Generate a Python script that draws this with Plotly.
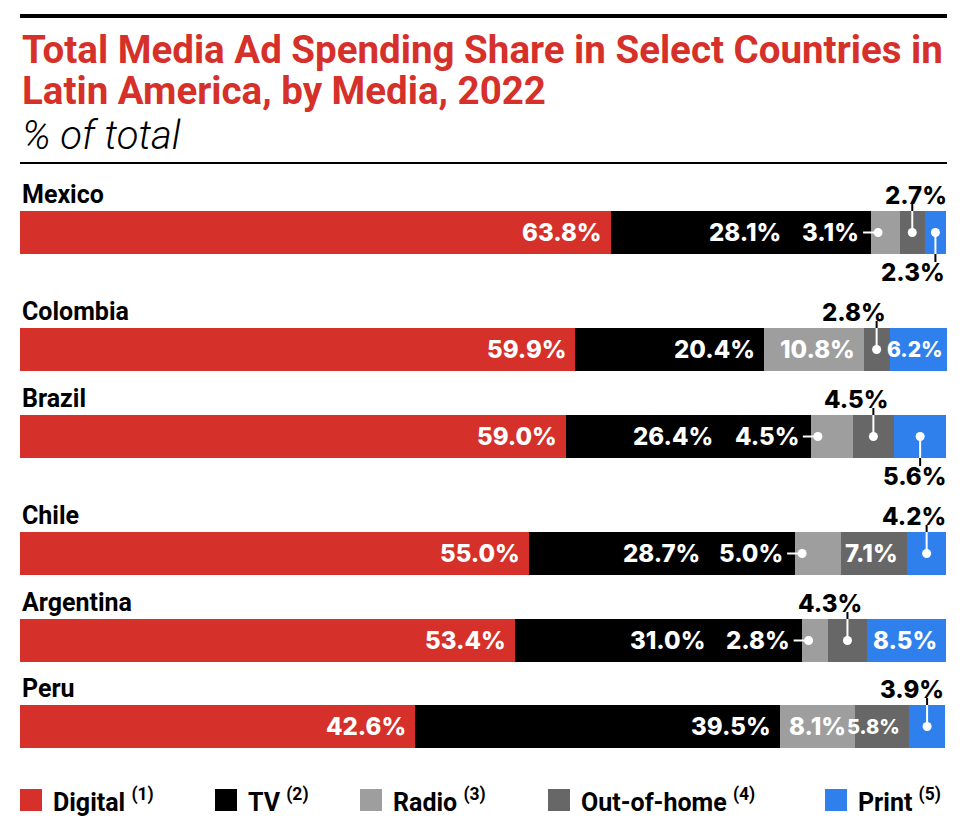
import plotly.graph_objects as go

# ---------------- data ----------------
countries = ["Mexico", "Colombia", "Brazil", "Chile", "Argentina", "Peru"]
media = ["Digital", "TV", "Radio", "Out-of-home", "Print"]
media_notes = ["(1)", "(2)", "(3)", "(4)", "(5)"]
digital = [63.8, 59.9, 59.0, 55.0, 53.4, 42.6]
tv = [28.1, 20.4, 26.4, 28.7, 31.0, 39.5]
radio = [3.1, 10.8, 4.5, 5.0, 2.8, 8.1]
out_of_home = [2.7, 2.8, 4.5, 7.1, 4.3, 5.8]
print_media = [2.3, 6.2, 5.6, 4.2, 8.5, 3.9]
title_lines = ["Total Media Ad Spending Share in Select Countries in",
               "Latin America, by Media, 2022"]
subtitle = "% of total"

series = [digital, tv, radio, out_of_home, print_media]

# ---------------- layout / style ----------------
W, H = 980, 823
ML, MR = 20, 33
PW = W - ML - MR
XMAX = 100.1
colors = ["#d6302a", "#000000", "#9e9e9e", "#676767", "#2f80ed"]
ROW_Y = [232.5, 349.5, 436.5, 553.5, 640.5, 726.5]   # pixel centres of the bars
BAR_H = 43
TITLE_RED = "#d6302a"
COND = "Roboto"
NUM = "Inter"
LBL_SIZE = 24
LBL_WEIGHT = 800
SIZE_OVERRIDE = {(5, 3): 20, (1, 4): 21}

# callout modes: (row, series) -> ('left',) | ('up', dx) | ('down', dx)
CALLOUTS = {
    (0, 2): ("left",), (0, 3): ("up", 4), (0, 4): ("down", -22),
    (1, 3): ("up", -23),
    (2, 2): ("left",), (2, 3): ("up", -17), (2, 4): ("down", -6),
    (3, 2): ("left",), (3, 4): ("up", -13),
    (4, 2): ("left",), (4, 3): ("up", -17),
    (5, 4): ("up", -15),
}
TV_SHIFT = {0: -81, 2: -89, 3: -86, 4: -88}
INSIDE_PAD = {(1, 4): -2}

fig = go.Figure()
for name, vals, col in zip(media, series, colors):
    fig.add_trace(go.Bar(
        y=ROW_Y, x=vals, orientation="h", width=BAR_H,
        marker=dict(color=col, line=dict(width=0)),
        name=name, showlegend=False, hoverinfo="x+name",
    ))

ann = []
shapes = []


def fmt(v):
    return f"{v:.1f}%"


for r, cty in enumerate(countries):
    yc = ROW_Y[r]
    top = yc - BAR_H / 2
    bot = yc + BAR_H / 2
    ann.append(dict(x=0, xref="x", y=top - 17, yref="y", text=f"<b>{cty}</b>",
                    xanchor="left", yanchor="middle", showarrow=False,
                    font=dict(family=COND, size=25, color="#000")))
    cum = 0.0
    for s, vals in enumerate(series):
        v = vals[r]
        start, end = cum, cum + v
        cum = end
        mid = (start + end) / 2
        txt = fmt(v)
        fs = SIZE_OVERRIDE.get((r, s), LBL_SIZE)
        mode = CALLOUTS.get((r, s))
        if mode is None:
            shift = INSIDE_PAD.get((r, s), -7) + (TV_SHIFT.get(r, 0) if s == 1 else 0)
            ann.append(dict(x=end, xref="x", y=yc, yref="y", text=txt,
                            xanchor="right", yanchor="middle", xshift=shift,
                            showarrow=False,
                            font=dict(family=NUM, size=fs, color="#fff",
                                      weight=LBL_WEIGHT)))
        elif mode[0] == "left":
            ann.append(dict(x=start, xref="x", y=yc, yref="y", text=txt,
                            xanchor="right", yanchor="middle", xshift=-10,
                            showarrow=False,
                            font=dict(family=NUM, size=fs, color="#fff",
                                      weight=LBL_WEIGHT)))
            shapes.append(dict(type="line", xref="x", yref="y", xsizemode="pixel",
                               xanchor=start, x0=-8, x1=7, y0=yc, y1=yc,
                               line=dict(color="#fff", width=2)))
            shapes.append(dict(type="circle", xref="x", yref="y",
                               xsizemode="pixel", ysizemode="pixel",
                               xanchor=start, yanchor=yc, x0=7 - 4.5, x1=7 + 4.5,
                               y0=-4.5, y1=4.5, fillcolor="#fff",
                               line=dict(width=0)))
        else:
            up = mode[0] == "up"
            dx = mode[1]
            edge = top if up else bot
            outer = edge - 7 if up else edge + 8
            shapes.append(dict(type="line", xref="x", yref="y", x0=mid, x1=mid,
                               y0=edge, y1=yc, line=dict(color="#fff", width=2)))
            shapes.append(dict(type="line", xref="x", yref="y", x0=mid, x1=mid,
                               y0=outer, y1=edge, line=dict(color="#000", width=2)))
            shapes.append(dict(type="circle", xref="x", yref="y",
                               xsizemode="pixel", ysizemode="pixel",
                               xanchor=mid, yanchor=yc, x0=-4.5, x1=4.5,
                               y0=-4.5, y1=4.5, fillcolor="#fff",
                               line=dict(width=0)))
            ann.append(dict(x=mid, xref="x", y=(top - 16) if up else (bot + 18),
                            yref="y", text=txt, xanchor="center", yanchor="middle",
                            xshift=dx, showarrow=False,
                            font=dict(family=NUM, size=fs, color="#000",
                                      weight=LBL_WEIGHT)))

# title and rules
shapes.append(dict(type="line", xref="paper", yref="y", x0=0, x1=1, y0=16, y1=16,
                   line=dict(color="#000", width=4)))
shapes.append(dict(type="line", xref="paper", yref="y", x0=0, x1=1, y0=163, y1=163,
                   line=dict(color="#000", width=2)))
ann.append(dict(x=0, xref="paper", y=49, yref="y", text=f"<b>{title_lines[0]}</b>",
                xanchor="left", yanchor="middle", showarrow=False,
                font=dict(family=COND, size=38.5, color=TITLE_RED)))
ann.append(dict(x=0, xref="paper", y=90, yref="y", text=f"<b>{title_lines[1]}</b>",
                xanchor="left", yanchor="middle", showarrow=False,
                font=dict(family=COND, size=38.5, color=TITLE_RED)))
ann.append(dict(x=0, xref="paper", y=135, yref="y", text=f"<i>{subtitle}</i>",
                xanchor="left", yanchor="middle", showarrow=False,
                font=dict(family=COND, size=40, color="#000", weight=300)))

# legend
LEG_X = [20, 215, 360, 548, 825]
LEG_Y = 800
for i, (name, note, col) in enumerate(zip(media, media_notes, colors)):
    x0 = (LEG_X[i] - ML) / PW
    x1 = (LEG_X[i] + 22 - ML) / PW
    shapes.append(dict(type="rect", xref="paper", yref="y", x0=x0, x1=x1,
                       y0=LEG_Y - 11, y1=LEG_Y + 11, fillcolor=col,
                       line=dict(width=0)))
    ann.append(dict(x=(LEG_X[i] + 31 - ML) / PW, xref="paper", y=LEG_Y, yref="y",
                    text=f"<b>{name}</b> <sup><b>{note}</b></sup>",
                    xanchor="left", yanchor="middle", showarrow=False,
                    font=dict(family=COND, size=25, color="#000")))

fig.update_layout(
    width=W, height=H, autosize=False,
    margin=dict(l=ML, r=MR, t=0, b=0, pad=0),
    paper_bgcolor="#fff", plot_bgcolor="#fff",
    barmode="stack", bargap=0,
    xaxis=dict(range=[0, XMAX], visible=False, fixedrange=True),
    yaxis=dict(range=[H, 0], visible=False, fixedrange=True),
    annotations=ann, shapes=shapes, showlegend=False,
)

fig.write_html("out.html", config={"displayModeBar": False},
               post_script="document.body.style.margin='0';document.body.style.overflow='hidden';")
